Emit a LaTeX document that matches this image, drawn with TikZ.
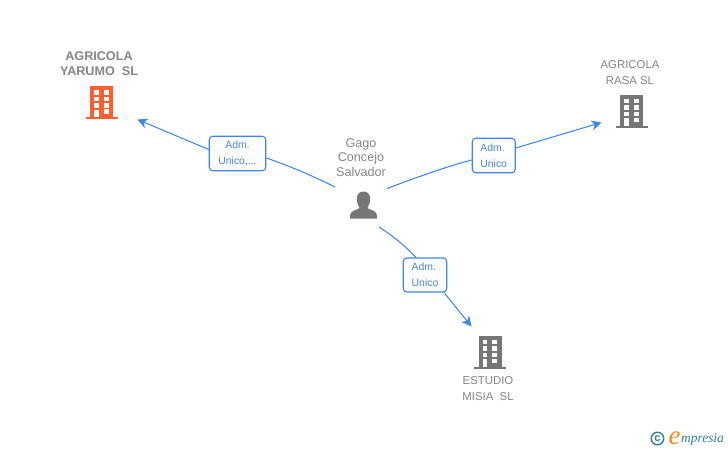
\documentclass[tikz,border=0pt]{standalone}
\usepackage{fontspec}
\setmainfont{Liberation Sans}
\newfontfamily\logofont{Liberation Serif}
\usetikzlibrary{arrows.meta}
\definecolor{linkblue}{HTML}{3D85E6}
\definecolor{labelblue}{HTML}{4A86D8}
\definecolor{gtext}{HTML}{858585}
\definecolor{gicon}{HTML}{767676}
\definecolor{oicon}{HTML}{FF5F2E}
\definecolor{logoteal}{HTML}{2F7F93}
\definecolor{logoorange}{HTML}{F08A1D}
\tikzset{
  x=1pt,y=-1pt,
  namebox/.style={align=center,text=gtext,font=\fontsize{11.4}{15.3}\selectfont,inner sep=0pt},
  boldname/.style={namebox,font=\fontsize{12.6}{15.3}\selectfont\bfseries},
  rolebox/.style={draw=linkblue,line width=1.1pt,rounded corners=3.5pt,top color=white,bottom color=white!98!black,text=labelblue,
    inner sep=0pt,font=\fontsize{10.4}{15.8}\selectfont},
  link/.style={draw=linkblue,line width=1.05pt},
  arrowlink/.style={link,-{Stealth[length=10pt,width=10pt,inset=3pt]}},
  pics/building/.style={code={
    \fill[#1] (-11.5,-16) rectangle (11.5,16);
    \fill[#1] (-16,15.2) rectangle (16,17.4);
    \foreach \yy in {-12,-5.5,1} {
      \fill[white] (-7.3,\yy) rectangle (-2.7,\yy+4.6);
      \fill[white] (2.3,\yy) rectangle (7.3,\yy+4.6);
    }
    \fill[white] (-7.3,7.5) rectangle (-2.7,15.2);
    \fill[white] (2.3,7) rectangle (7.3,11.8);
  }}
}
\begin{document}
\begin{tikzpicture}
\useasboundingbox (0,0) rectangle (728,450);
% names
\node[boldname] (yarumotxt) at (99,64) {AGRICOLA\\YARUMO\ \ SL};
\node[namebox] (rasatxt) at (630,72.5) {AGRICOLA\\RASA SL};
\node[namebox] (misiatxt) at (488,388.5) {ESTUDIO\\MISIA\ \ SL};
\node[namebox,font=\fontsize{12.6}{14.8}\selectfont] (persontxt) at (361,157.5) {Gago\\Concejo\\Salvador};
% icons
\pic at (101.5,102) {building=oicon};
\pic at (631.5,110.5) {building=gicon};
\pic at (490,351.5) {building=gicon};
\fill[gicon] (363.5,191.5) .. controls (358,191.5) and (356.5,196) .. (356.8,200)
  .. controls (357.2,204) and (359,206.5) .. (359.5,207.5)
  .. controls (359.5,209) and (357,209.5) .. (354,210.5)
  .. controls (351,211.5) and (350,213) .. (350,218.5) -- (377,218.5)
  .. controls (377,213) and (376,211.5) .. (373,210.5)
  .. controls (370,209.5) and (367.5,209) .. (367.5,207.5)
  .. controls (368,206.5) and (369.8,204) .. (370.2,200)
  .. controls (370.5,196) and (369,191.5) .. (363.5,191.5) -- cycle;
% connector ends
\coordinate (pl) at (335,187);
\coordinate (pr) at (387,188.5);
\coordinate (pd) at (379,227);
\coordinate (yarumo) at (137.5,119.5);
\coordinate (rasa) at (601.5,122.5);
\coordinate (misia) at (471.5,326.5);
% role boxes
\node[rolebox,align=center,minimum width=56.5pt,minimum height=34.5pt] (r1) at (237.5,153.5) {Adm.\\Unico,...};
\node[rolebox,align=left,minimum width=43pt,minimum height=34.5pt] (r2) at (493.7,155.5) {Adm.\\Unico};
\node[rolebox,align=left,minimum width=43.5pt,minimum height=34pt] (r3) at (425,275) {Adm.\\Unico};
% connectors
\draw[link] (pl) .. controls (315,177) and (290,166) .. (r1.east |- 0,158);
\draw[arrowlink] (r1.west |- 0,149.5) -- (yarumo);
\draw[link] (pr) .. controls (415,178) and (445,167) .. (r2.west |- 0,160);
\draw[arrowlink] (r2.east |- 0,148) -- (rasa);
\draw[link] (pd) .. controls (395,237) and (408,249) .. (r3.north -| 416,0);
\draw[arrowlink] (r3.south -| 444,0) -- (misia);
% logo
\node[draw=logoteal,line width=1.4pt,circle,minimum size=12.5pt,inner sep=0pt,text=logoteal,font=\fontsize{11}{11}\selectfont\bfseries] (copy) at (657.5,438.5) {c};
\node[inner sep=0pt,anchor=base west,text=logoteal,font=\logofont\itshape\fontsize{13.4}{13.4}\selectfont] (logo) at (681,442.5) {mpresia};
\node[inner sep=0pt,anchor=base east,text=logoorange,font=\logofont\itshape\fontsize{27}{27}\selectfont] (loge) at (680.8,444) {e};
\end{tikzpicture}
\end{document}
